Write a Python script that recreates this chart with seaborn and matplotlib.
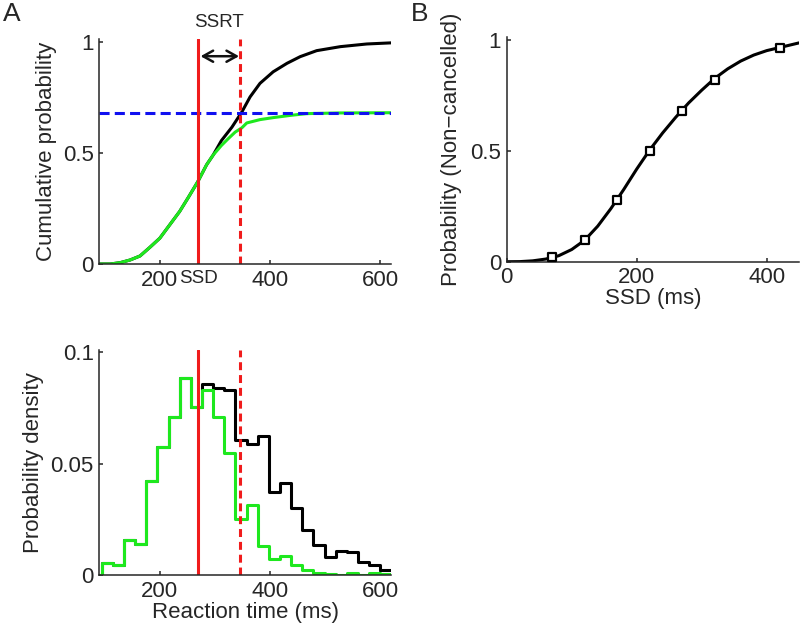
import numpy as np
import pandas as pd
import matplotlib
matplotlib.use("Agg")
import matplotlib.pyplot as plt
import matplotlib.transforms as mtransforms
from matplotlib import font_manager
import seaborn as sns

# ---------------- data ----------------
ssd = 270            # stop-signal delay (ms)
ssrt_end = 346       # SSD + SSRT (ms)
p_noncancel = 0.68   # P(respond | stop signal)

# cumulative RT distributions
cdf_all_rt = [90, 110, 128, 146, 164, 182, 200, 218, 236, 252, 269, 285, 297,
              312, 331, 349, 364, 382, 406, 431, 455, 485, 528, 576, 620]
cdf_all_p = [0.0, 0.0, 0.006, 0.018, 0.036, 0.075, 0.116, 0.176, 0.236, 0.30,
             0.37, 0.446, 0.49, 0.555, 0.615, 0.683, 0.751, 0.812, 0.864,
             0.902, 0.932, 0.959, 0.977, 0.989, 0.994]
cdf_resp_rt = [90, 110, 128, 146, 164, 182, 200, 218, 236, 252, 269, 285, 297,
               312, 325, 337, 349, 358, 382, 406, 437, 467, 528, 620]
cdf_resp_p = [0.0, 0.0, 0.006, 0.018, 0.036, 0.075, 0.116, 0.176, 0.236, 0.30,
              0.37, 0.446, 0.49, 0.533, 0.565, 0.593, 0.612, 0.634, 0.649,
              0.658, 0.668, 0.676, 0.679, 0.68]

# RT histograms (probability per bin); first bin (74-94 ms) is empty
hist_lo, hist_hi, n_bins = 74.14, 621.0, 27
hist_all = [0.0, 0.0052, 0.0045, 0.0158, 0.0139, 0.0422, 0.0576, 0.0711,
            0.0883, 0.0753, 0.0856, 0.0838, 0.0831, 0.0606, 0.0587, 0.0626,
            0.0371, 0.0415, 0.0300, 0.0202, 0.0135, 0.0080, 0.0110, 0.0103,
            0.0060, 0.0047, 0.0022]
hist_resp = [0.0, 0.0052, 0.0045, 0.0158, 0.0139, 0.0422, 0.0576, 0.0711,
             0.0883, 0.0753, 0.0831, 0.0711, 0.0549, 0.0251, 0.0314, 0.0130,
             0.0070, 0.0085, 0.0045, 0.0022, 0.0010, 0.0005, 0.0, 0.0010, 0.0,
             0.0010, 0.0005]

# inhibition function
ssd_levels = [70, 120, 170, 220, 270, 320, 420]
p_nc_obs = [0.02, 0.10, 0.28, 0.50, 0.68, 0.82, 0.96]
fit_ssd = [0, 20, 40, 60, 80, 100, 120, 140, 160, 180, 200, 220, 240, 260,
           280, 300, 320, 340, 360, 380, 400, 420, 440, 450]
fit_p = [0.0, 0.0005, 0.004, 0.012, 0.027, 0.055, 0.097, 0.16, 0.238, 0.325,
         0.417, 0.503, 0.58, 0.65, 0.715, 0.772, 0.825, 0.868, 0.903, 0.93,
         0.95, 0.964, 0.978, 0.985]

# ---------------- style ----------------
sns.set_style("ticks")
installed = {f.name for f in font_manager.fontManager.ttflist}
if 'Liberation Sans Narrow' in installed:
    FAM = ['Liberation Sans Narrow', 'DejaVu Sans']
    K = 1.2
else:
    FAM = ['Liberation Sans', 'DejaVu Sans']
    K = 1.0
FS = 16 * K
plt.rcParams['font.family'] = FAM
plt.rcParams['font.size'] = FS
plt.rcParams['axes.linewidth'] = 1.1
plt.rcParams['xtick.direction'] = 'in'
plt.rcParams['ytick.direction'] = 'in'
plt.rcParams['xtick.major.size'] = 3
plt.rcParams['ytick.major.size'] = 3
plt.rcParams['xtick.major.width'] = 1.1
plt.rcParams['ytick.major.width'] = 1.1
plt.rcParams['xtick.labelsize'] = FS
plt.rcParams['ytick.labelsize'] = FS
plt.rcParams['axes.labelsize'] = FS

GREEN = '#1ee81e'
RED = '#f01c1c'
BLUE = '#1010f0'
LW = 2.2

fig = plt.figure(figsize=(8.0, 6.29), dpi=100)
ax1 = fig.add_axes([0.1241, 0.5803, 0.3646, 0.3572])
ax2 = fig.add_axes([0.1241, 0.0858, 0.3646, 0.3577])
ax3 = fig.add_axes([0.6334, 0.5839, 0.3656, 0.3568])

# ---------------- panel A, top ----------------
df_all = pd.DataFrame({'rt': cdf_all_rt, 'p': cdf_all_p})
df_resp = pd.DataFrame({'rt': cdf_resp_rt, 'p': cdf_resp_p})
sns.lineplot(data=df_all, x='rt', y='p', color='black', lw=LW, ax=ax1,
             estimator=None, sort=False)
sns.lineplot(data=df_resp, x='rt', y='p', color=GREEN, lw=LW, ax=ax1,
             estimator=None, sort=False)
ax1.axhline(p_noncancel, color=BLUE, lw=LW, ls=(0, (3.3, 1.7)))
ax1.axvline(ssd, color=RED, lw=LW)
ax1.axvline(ssrt_end, color=RED, lw=LW, ls=(0, (2.6, 1.6)))
ax1.annotate('', xy=(ssrt_end - 2, 0.934), xytext=(ssd + 4, 0.934),
             arrowprops=dict(arrowstyle='<->,head_length=0.45,head_width=0.25',
                             color='#111111', lw=1.8, shrinkA=0, shrinkB=0))
ax1.text((ssd + ssrt_end) / 2, 1.085, 'SSRT', ha='center', va='center',
         fontsize=13.5 * K, clip_on=False)
ax1.set_xlim(90, 620)
ax1.set_ylim(0, 1.01)
ax1.set_xticks([200, ssd, 400, 600])
ax1.set_xticklabels(['200', 'SSD', '400', '600'])
ssd_lab = ax1.get_xticklabels()[1]
ssd_lab.set_fontsize(13.5 * K)
ssd_lab.set_transform(ssd_lab.get_transform() +
                      mtransforms.ScaledTranslation(3 / 100, 0, fig.dpi_scale_trans))
ax1.set_yticks([0, 0.5, 1])
ax1.set_yticklabels(['0', '0.5', '1'])
ax1.set_xlabel('')
ax1.set_ylabel('Cumulative probability', labelpad=4)

# ---------------- panel A, bottom ----------------
edges = np.linspace(hist_lo, hist_hi, n_bins + 1)
centers = (edges[:-1] + edges[1:]) / 2
df_hist = pd.DataFrame({'rt': centers, 'all': hist_all, 'resp': hist_resp})
bw = (hist_hi - hist_lo) / n_bins
sns.histplot(data=df_hist, x='rt', weights='all', binwidth=bw,
             binrange=(hist_lo, hist_hi), element='step', fill=False,
             color='black', lw=LW, ax=ax2)
sns.histplot(data=df_hist, x='rt', weights='resp', binwidth=bw,
             binrange=(hist_lo, hist_hi), element='step', fill=False,
             color=GREEN, lw=LW, ax=ax2)
ax2.axvline(ssd, color=RED, lw=LW)
ax2.axvline(ssrt_end, color=RED, lw=LW, ls=(0, (2.6, 1.6)))
ax2.set_xlim(90, 620)
ax2.set_ylim(0, 0.101)
ax2.set_xticks([200, 400, 600])
ax2.set_xticklabels(['200', '400', '600'])
ax2.set_yticks([0, 0.05, 0.1])
ax2.set_yticklabels(['0', '0.05', '0.1'])
ax2.set_xlabel('Reaction time (ms)', labelpad=0)
ax2.set_ylabel('Probability density', labelpad=5)

# ---------------- panel B ----------------
df_fit = pd.DataFrame({'ssd': fit_ssd, 'p': fit_p})
df_obs = pd.DataFrame({'ssd': ssd_levels, 'p': p_nc_obs})
sns.lineplot(data=df_fit, x='ssd', y='p', color='black', lw=LW, ax=ax3,
             estimator=None, sort=False)
sns.scatterplot(data=df_obs, x='ssd', y='p', marker='s', s=40,
                facecolor='white', edgecolor='black', linewidth=1.6, ax=ax3,
                zorder=5)
ax3.set_xlim(0, 450)
ax3.set_ylim(0, 1.01)
ax3.set_xticks([0, 200, 400])
ax3.set_xticklabels(['0', '200', '400'])
ax3.set_yticks([0, 0.5, 1])
ax3.set_yticklabels(['0', '0.5', '1'])
ax3.set_xlabel('SSD (ms)', labelpad=0)
ax3.set_ylabel('Probability (Non\u2212cancelled)', labelpad=6)

for ax in (ax1, ax2, ax3):
    sns.despine(ax=ax)
    ax.tick_params(axis='both', pad=4)

fig.text(0.004, 0.997, 'A', fontsize=19, ha='left', va='top',
         family=['Liberation Sans', 'DejaVu Sans'])
fig.text(0.514, 0.997, 'B', fontsize=19, ha='left', va='top',
         family=['Liberation Sans', 'DejaVu Sans'])

fig.savefig('out.png', dpi=100)
